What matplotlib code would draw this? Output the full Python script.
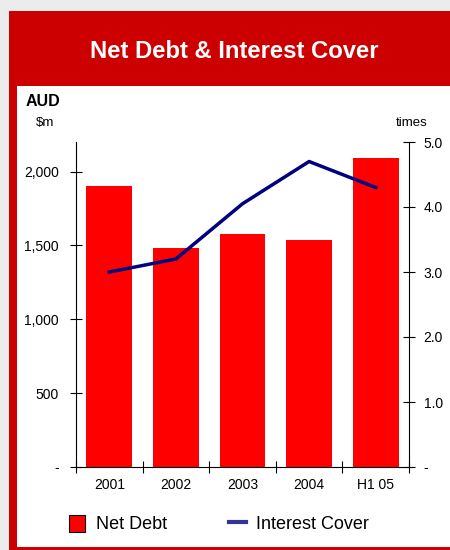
import matplotlib
matplotlib.use("Agg")
import matplotlib.pyplot as plt
from matplotlib.patches import Rectangle, Patch
from matplotlib.lines import Line2D

plt.rcParams['font.family'] = ['Liberation Sans', 'DejaVu Sans']

# data
periods = ['2001', '2002', '2003', '2004', 'H1 05']
net_debt = [1900, 1480, 1580, 1540, 2090]          # $m
interest_cover = [3.0, 3.2, 4.05, 4.7, 4.3]       # times
left_ticks = [0, 500, 1000, 1500, 2000]
left_labels = ['-', '500', '1,000', '1,500', '2,000']
right_ticks = [0, 1, 2, 3, 4, 5]
right_labels = ['-', '1.0', '2.0', '3.0', '4.0', '5.0']

W, H = 450, 550
fig = plt.figure(figsize=(W / 100, H / 100), dpi=100, facecolor='#ececec')

# red frame + title band, white panel inside (behind the axes)
fig.patches.append(Rectangle((9 / W, 0), 1, 1 - 11 / H, transform=fig.transFigure,
                             facecolor='#cc0000', edgecolor='none', zorder=-2))
fig.patches.append(Rectangle((17 / W, 3 / H), 1, (547 - 86) / H, transform=fig.transFigure,
                             facecolor='white', edgecolor='none', zorder=-1))
fig.text(234 / W, 1 - 51 / H, 'Net Debt & Interest Cover', color='white',
         fontsize=17.2, fontweight='bold', ha='center', va='center')
fig.text(26 / W, 1 - 101 / H, 'AUD', fontsize=11.5, fontweight='bold', ha='left', va='center')
fig.text(36 / W, 1 - 123 / H, '$m', fontsize=9.5, ha='left', va='center')
fig.text(412 / W, 1 - 123 / H, 'times', fontsize=9.5, ha='center', va='center')

ax = fig.add_axes([76 / W, 1 - 467 / H, (409 - 76) / W, (467 - 142) / H])
ax.set_facecolor('none')
x = list(range(len(periods)))
ax.bar(x, net_debt, width=0.69, color='#ff0000', zorder=2)
ax.set_xlim(-0.5, len(periods) - 0.5)
ax.set_ylim(0, 2200)
ax.set_yticks(left_ticks)
ax.set_yticklabels(left_labels, fontsize=10)
ax.set_xticks([i - 0.5 for i in range(len(periods) + 1)])
ax.set_xticklabels([])
ax.set_xticks(x, minor=True)
ax.set_xticklabels(periods, minor=True, fontsize=10)
ax.tick_params(axis='x', which='major', direction='inout', length=8, width=0.8)
ax.tick_params(axis='x', which='minor', length=0, pad=8)
ax.tick_params(axis='y', direction='inout', length=9, width=0.8, pad=8)
ax.spines['top'].set_visible(False)
ax.spines['right'].set_visible(False)

ax2 = ax.twinx()
ax2.plot(x, interest_cover, color='#000080', linewidth=2.5, zorder=3)
ax2.set_ylim(0, 5.0)
ax2.set_yticks(right_ticks)
ax2.set_yticklabels(right_labels, fontsize=10)
ax2.tick_params(axis='y', direction='inout', length=9, width=0.8, pad=6)
ax2.spines['top'].set_visible(False)
ax2.spines['left'].set_visible(False)
ax2.spines['bottom'].set_visible(False)

handles = [Patch(facecolor='#ff0000', edgecolor='black', linewidth=0.8),
           Line2D([], [], color='#333399', linewidth=3)]
fig.legend(handles, ['Net Debt', 'Interest Cover'], loc='center',
           bbox_to_anchor=(219 / W, 1 - 524 / H), ncol=2, frameon=False,
           fontsize=13, handlelength=0.9, handleheight=1.1, columnspacing=3.45,
           handletextpad=0.6)

fig.savefig('out.png', dpi=100, facecolor=fig.get_facecolor())
